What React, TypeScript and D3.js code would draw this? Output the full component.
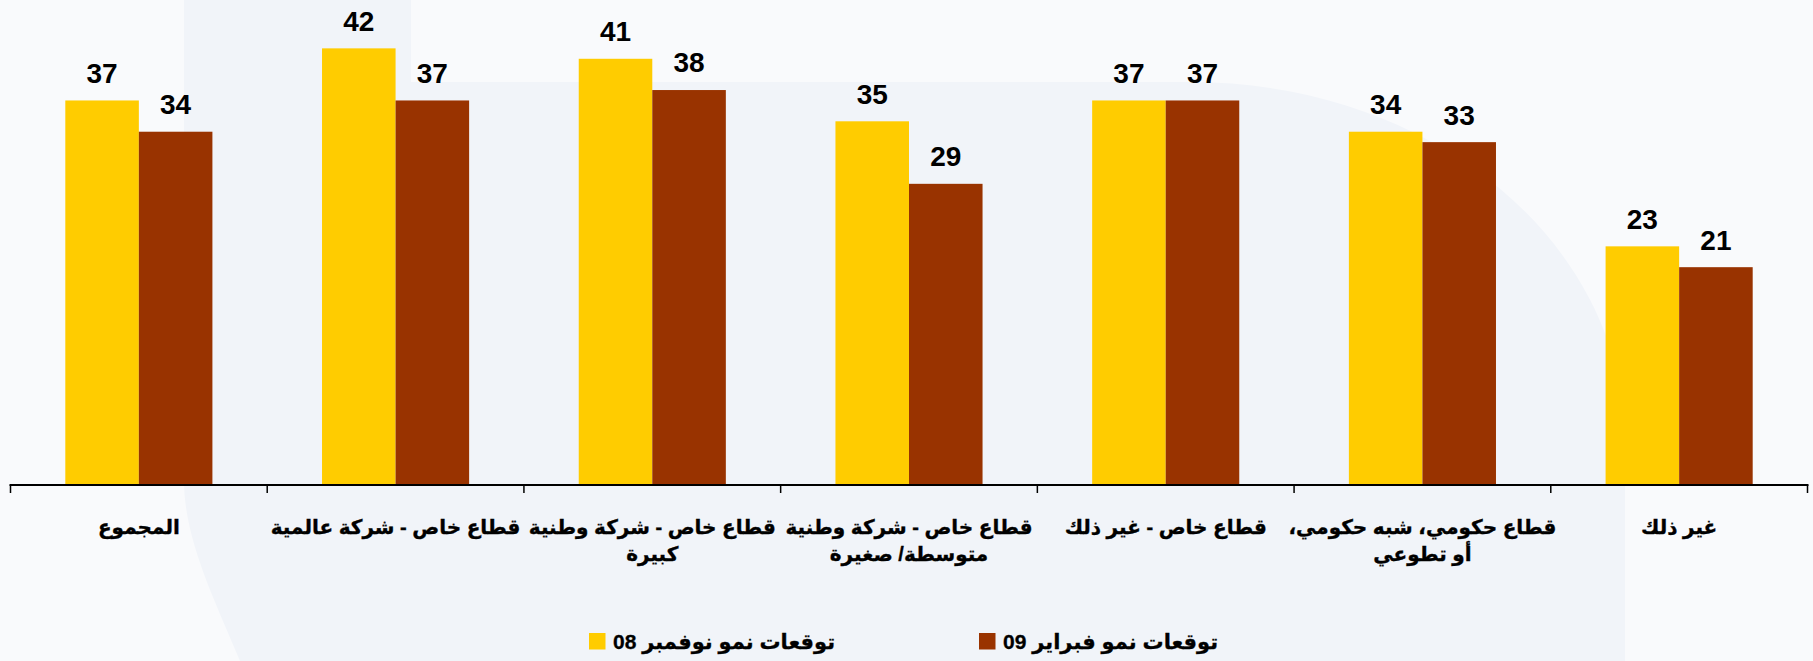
import React from "react";
import * as d3 from "d3";

const categoryLabels: string[][] = [
  ["المجموع"],
  ["قطاع خاص - شركة عالمية"],
  ["قطاع خاص - شركة وطنية", "كبيرة"],
  ["قطاع خاص - شركة وطنية", "متوسطة/ صغيرة"],
  ["قطاع خاص - غير ذلك"],
  ["قطاع حكومي، شبه حكومي،", "أو تطوعي"],
  ["غير ذلك"],
];
const nov08 = [37, 42, 41, 35, 37, 34, 23];
const feb09 = [34, 37, 38, 29, 37, 33, 21];
const seriesNames = ["توقعات نمو نوفمبر 08", "توقعات نمو فبراير 09"];
const seriesColors = ["#FFCC00", "#993300"];

const W = 1813;
const H = 661;
const FONT = "'Liberation Sans', Arial, 'DejaVu Sans', sans-serif";

export default function App() {
  const idx = categoryLabels.map((_, i) => String(i));
  const x = d3
    .scaleBand<string>()
    .domain(idx)
    .range([10.5, 1807.5])
    .paddingInner(0.427)
    .paddingOuter(0.2135);
  const xs = d3.scaleBand<string>().domain(["0", "1"]).range([0, x.bandwidth()]);
  const y = d3.scaleLinear().domain([0, 45]).range([486, 486 - 45 * 10.42]);
  const series = [nov08, feb09];
  const step = x.step();
  const x0 = x.range()[0];
  const axisY = 485;

  return (
    <svg
      width={W}
      height={H}
      style={{ position: "absolute", left: 0, top: 0, display: "block" }}
    >
      <rect x={0} y={0} width={W} height={H} fill="#f9fafc" />
      <path
        d="M184,0 L411,0 L411,82 L1190,82 C1440,82 1625,250 1625,440 L1625,661 L240,661 C215,600 184,540 184,480 Z"
        fill="#f1f4f9"
      />
      {categoryLabels.map((_, i) =>
        series.map((vals, s) => (
          <rect
            key={`b${i}-${s}`}
            x={(x(String(i)) as number) + (xs(String(s)) as number)}
            y={y(vals[i])}
            width={xs.bandwidth()}
            height={y(0) - y(vals[i])}
            fill={seriesColors[s]}
          />
        ))
      )}
      {categoryLabels.map((_, i) =>
        series.map((vals, s) => (
          <text
            key={`l${i}-${s}`}
            x={(x(String(i)) as number) + (xs(String(s)) as number) + xs.bandwidth() / 2}
            y={y(vals[i]) - 17.6}
            textAnchor="middle"
            fontFamily={FONT}
            fontWeight="bold"
            fontSize={28}
            fill="#000"
          >
            {vals[i]}
          </text>
        ))
      )}
      <line x1={x0 - 1} x2={x0 + step * categoryLabels.length + 1} y1={axisY} y2={axisY} stroke="#000" strokeWidth={2} />
      {d3.range(categoryLabels.length + 1).map((i) => (
        <line
          key={`t${i}`}
          x1={x0 + i * step}
          x2={x0 + i * step}
          y1={axisY}
          y2={axisY + 8}
          stroke="#000"
          strokeWidth={1.5}
        />
      ))}
      {categoryLabels.map((lines, i) => (
        <text
          key={`c${i}`}
          x={(x(String(i)) as number) + x.bandwidth() / 2}
          y={534}
          textAnchor="middle"
          direction="rtl"
          fontFamily={FONT}
          fontWeight="bold"
          fontSize={20}
          fill="#000"
          stroke="#000"
          strokeWidth={0.35}
        >
          {lines.map((ln, k) => (
            <tspan key={k} x={(x(String(i)) as number) + x.bandwidth() / 2} y={534 + k * 27}>
              {ln}
            </tspan>
          ))}
        </text>
      ))}
      {seriesNames.map((name, s) => {
        const sx = [589, 979][s];
        return (
          <g key={`lg${s}`}>
            <rect x={sx} y={633} width={16.5} height={16.5} fill={seriesColors[s]} />
            <text
              x={sx + 24}
              y={649}
              fontFamily={FONT}
              fontWeight="bold"
              fontSize={21}
              fill="#000"
              stroke="#000"
              strokeWidth={0.3}
            >
              {name}
            </text>
          </g>
        );
      })}
    </svg>
  );
}
